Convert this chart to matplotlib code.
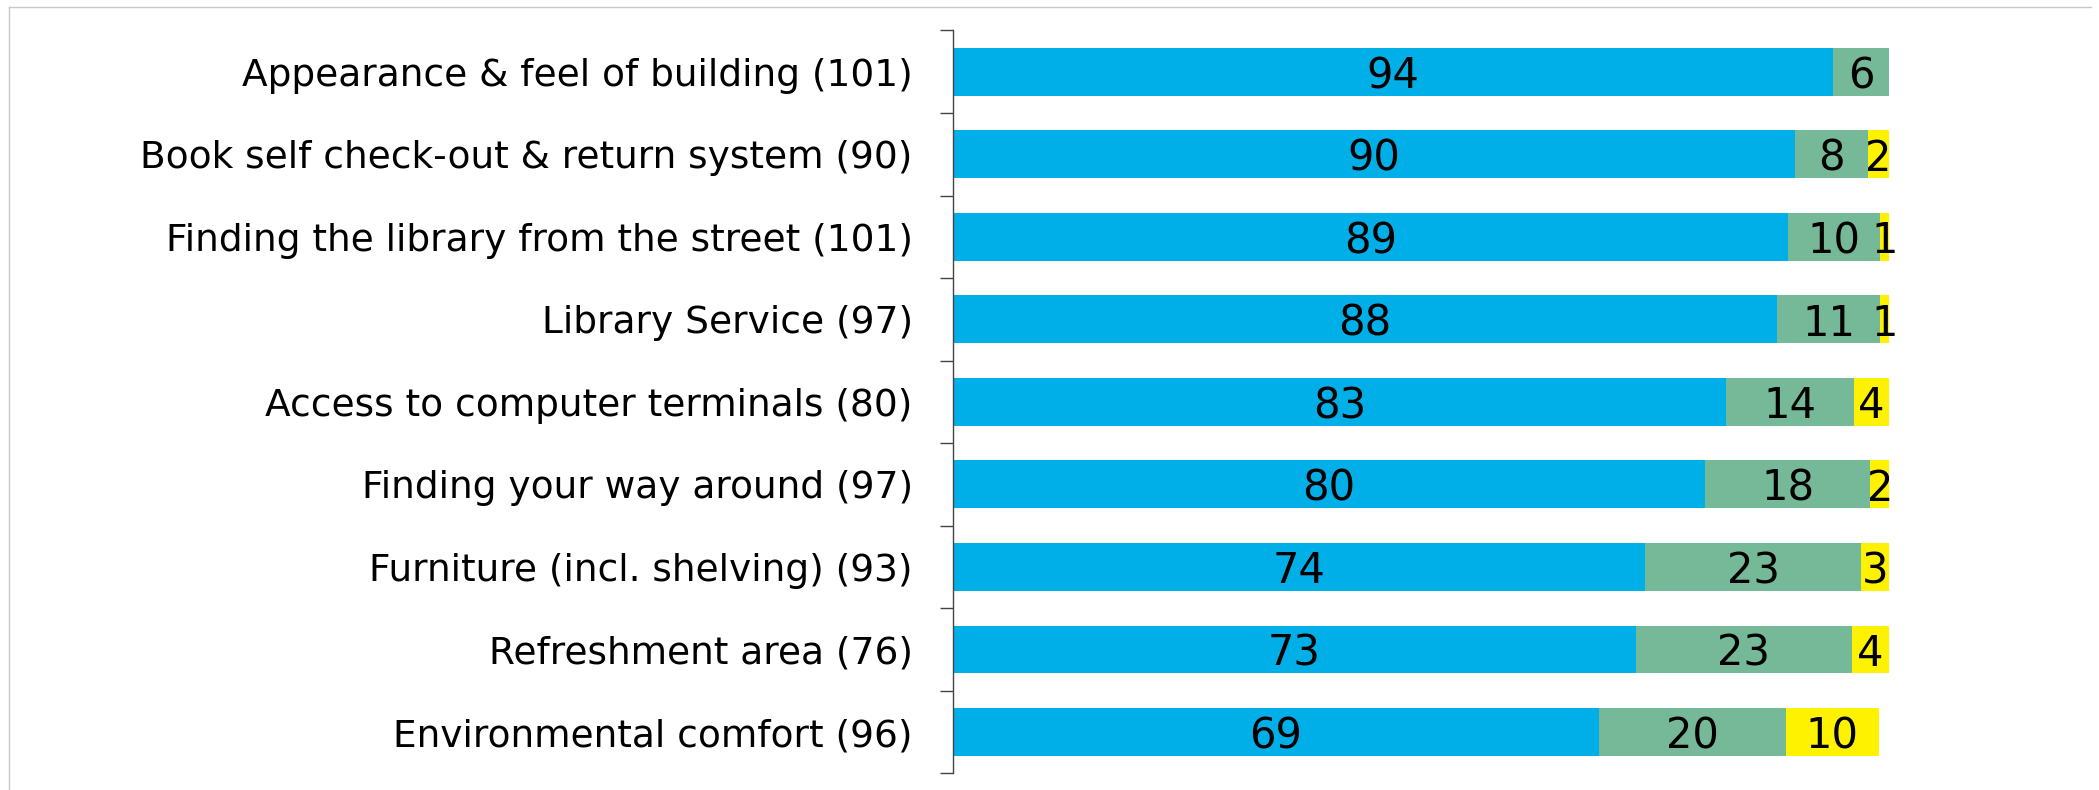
# -*- coding: utf-8 -*-
"""
    Library satisfaction survey - stacked horizontal bars
"""

import numpy as np
import matplotlib
matplotlib.use("Agg")
import matplotlib.pyplot as plt
from matplotlib.lines import Line2D

#========== DATA ==========#

categories = [
    "Appearance & feel of building (101)",
    "Book self check-out & return system (90)",
    "Finding the library from the street (101)",
    "Library Service (97)",
    "Access to computer terminals (80)",
    "Finding your way around (97)",
    "Furniture (incl. shelving) (93)",
    "Refreshment area (76)",
    "Environmental comfort (96)",
]
good = [94.1, 90.0, 89.2, 88.1, 82.6, 80.4, 74.0, 73.0, 69.0]
neutral = [5.9, 7.8, 9.9, 11.0, 13.7, 17.6, 23.0, 23.05, 20.0]
poor = [0.0, 2.2, 0.96, 0.96, 3.7, 2.1, 3.0, 3.95, 9.97]

colors = ["#00aee8", "#76b999", "#fff200"]

#========== PLOT ==========#

W, H = 2099, 790
fig = plt.figure(figsize=(W / 100, H / 100), dpi=100)
ax = fig.add_axes([953 / W, 1 - 773.3 / H, (1888.7 - 953) / W, (773.3 - 30.5) / H])

y = np.arange(len(categories))
left = np.zeros(len(categories))
for series, col in zip([good, neutral, poor], colors):
    vals = np.asarray(series)
    ax.barh(y, vals, left=left, height=0.58, color=col, edgecolor="none")
    for yi, (l, v) in enumerate(zip(left, vals)):
        if v > 0:
            ax.text(l + v / 2, yi, format(v, ".0f"), ha="center",
                    va="center_baseline", fontsize=30, color="black")
    left = left + vals

ax.set_xlim(0, 100)
ax.set_ylim(len(categories) - 0.5, -0.5)
ax.set_yticks(y)
ax.set_yticklabels(categories, fontsize=27)
ax.set_yticks(np.arange(len(categories) + 1) - 0.5, minor=True)
ax.tick_params(axis="y", which="major", length=0, pad=29)
ax.tick_params(axis="y", which="minor", length=9.5, width=1.0, color="#444444",
               direction="out")
ax.set_xticks([])
for side in ["top", "right", "bottom"]:
    ax.spines[side].set_visible(False)
ax.spines["left"].set_color("#444444")
ax.spines["left"].set_linewidth(1.0)

# light frame
fig.add_artist(Line2D([9 / W, 2091 / W], [1 - 7.3 / H, 1 - 7.3 / H],
                      transform=fig.transFigure, color="#c8c8c8", lw=1.0))
fig.add_artist(Line2D([9.3 / W, 9.3 / W], [1 - 7.3 / H, 0],
                      transform=fig.transFigure, color="#c8c8c8", lw=1.0))

fig.savefig("out.png", dpi=100)
